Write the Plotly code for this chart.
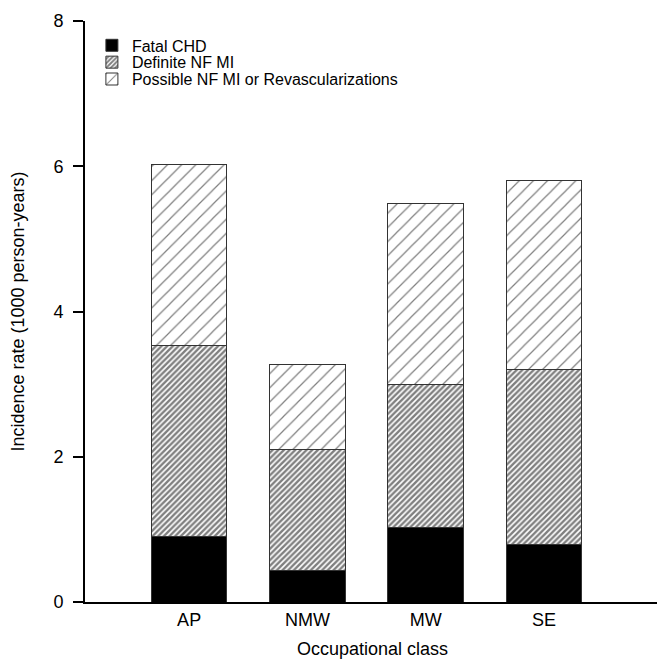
import plotly.graph_objects as go

categories = ["AP", "NMW", "MW", "SE"]
fatal_chd = [0.90, 0.43, 1.03, 0.79]
definite_nf_mi = [2.63, 1.67, 1.97, 2.41]
possible_nf_mi = [2.50, 1.17, 2.49, 2.61]
y_ticks = [0, 2, 4, 6, 8]

FONT = "Liberation Sans, Arial, sans-serif"
fig = go.Figure()
fig.add_trace(go.Bar(
    x=categories, y=fatal_chd, name="Fatal CHD", legend="legend", showlegend=True,
    marker=dict(color="black", line=dict(color="#333", width=1)),
    width=0.64,
))
fig.add_trace(go.Bar(
    x=categories, y=definite_nf_mi, name="Definite NF MI", legend="legend2", showlegend=True,
    marker=dict(color="white", line=dict(color="#333", width=1),
                pattern=dict(shape="/", fgcolor="black", bgcolor="white", size=4, solidity=0.6)),
    width=0.64,
))
fig.add_trace(go.Bar(
    x=categories, y=possible_nf_mi, name="Possible NF MI or Revascularizations", legend="legend3",
    showlegend=True,
    marker=dict(color="white", line=dict(color="#333", width=1),
                pattern=dict(shape="/", fgcolor="black", bgcolor="white", size=10, solidity=0.12)),
    width=0.64,
))

leg = dict(x=0.012, xanchor="left", yanchor="middle", font=dict(size=16),
           itemwidth=30, bgcolor="rgba(0,0,0,0)", visible=True)

fig.update_layout(
    barmode="stack",
    showlegend=True,
    width=657, height=656,
    margin=dict(l=77, r=5, t=13, b=62),
    paper_bgcolor="white", plot_bgcolor="white",
    font=dict(family=FONT, color="black", size=18),
    legend=dict(leg, y=0.958),
    legend2=dict(leg, y=0.929),
    legend3=dict(leg, y=0.900),
    xaxis=dict(range=[-0.88, 3.98], showline=True, linecolor="black", linewidth=2,
               ticks="", showgrid=False, tickfont=dict(size=18), automargin=False,
               title=dict(text="Occupational class", font=dict(size=18), standoff=14)),
    yaxis=dict(range=[0, 8], tickvals=y_ticks, showline=True, linecolor="black", linewidth=2,
               ticks="outside", ticklen=10, tickwidth=2, tickcolor="black", showgrid=False,
               zeroline=False, tickfont=dict(size=18), automargin=False, ticklabelstandoff=6,
               title=dict(text="Incidence rate (1000 person-years)", font=dict(size=18), standoff=24)),
)

fig.write_html("out.html")
